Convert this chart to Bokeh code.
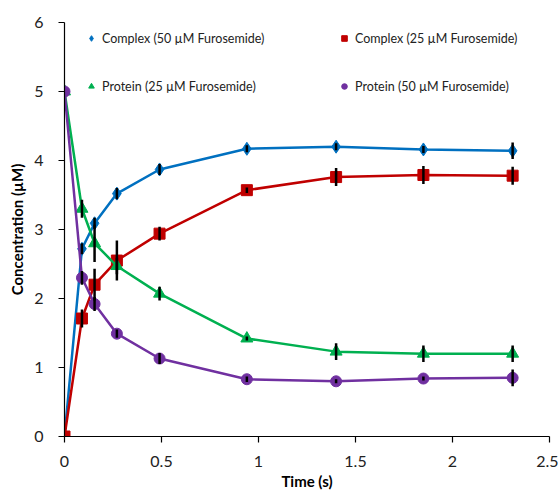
from bokeh.plotting import figure
from bokeh.models import ColumnDataSource, Legend, LegendItem, FixedTicker, Range1d
from bokeh.embed import file_html
from bokeh.resources import INLINE

time_s = [0, 0.09, 0.155, 0.27, 0.49, 0.94, 1.40, 1.85, 2.31]

complex50 = [0, 2.72, 3.09, 3.52, 3.87, 4.17, 4.20, 4.16, 4.14]
complex50_err = [0, 0.08, 0.08, 0.08, 0.08, 0.05, 0.05, 0.05, 0.12]

complex25 = [0, 1.71, 2.20, 2.55, 2.94, 3.57, 3.76, 3.79, 3.78]
complex25_err = [0, 0.13, 0.23, 0.29, 0.10, 0.04, 0.13, 0.13, 0.13]

protein25 = [5, 3.30, 2.80, 2.47, 2.07, 1.42, 1.23, 1.20, 1.20]
protein25_err = [0, 0.13, 0.27, 0.12, 0.10, 0.03, 0.12, 0.12, 0.12]

protein50 = [5, 2.30, 1.92, 1.49, 1.13, 0.83, 0.80, 0.84, 0.85]
protein50_err = [0, 0.10, 0.10, 0.06, 0.08, 0.04, 0.03, 0.03, 0.12]

x_ticks = [0, 0.5, 1, 1.5, 2, 2.5]
x_tick_labels = ["0", "0.5", "1", "1.5", "2", "2.5"]
y_ticks = [0, 1, 2, 3, 4, 5, 6]
y_tick_labels = ["0", "1", "2", "3", "4", "5", "6"]

series = [
    ("Complex (50 µM Furosemide)", complex50, complex50_err, "#0070C0", "diamond", 13),
    ("Complex (25 µM Furosemide)", complex25, complex25_err, "#C00000", "square", 11),
    ("Protein (25 µM Furosemide)", protein25, protein25_err, "#00B050", "triangle", 12),
    ("Protein (50 µM Furosemide)", protein50, protein50_err, "#7030A0", "circle", 11),
]

FONT = "Lato"

p = figure(frame_width=485, frame_height=414, output_backend="svg", toolbar_location=None,
           x_range=Range1d(0, 2.5), y_range=Range1d(0, 6),
           min_border_left=64, min_border_right=9, min_border_top=22, min_border_bottom=20)
p.outline_line_color = None
p.xgrid.visible = False
p.ygrid.visible = False

items = {}
for name, vals, errs, color, marker, size in series:
    src = ColumnDataSource(dict(x=time_s, y=vals))
    p.line("x", "y", source=src, line_color=color, line_width=2.5)
    sc = p.scatter("x", "y", source=src, marker=marker, size=size,
                   fill_color=color, line_color=color)
    items[name] = sc

for name, vals, errs, color, marker, size in series:
    src = ColumnDataSource(dict(
        x=time_s,
        lo=[v - e for v, e in zip(vals, errs)],
        hi=[v + e for v, e in zip(vals, errs)],
    ))
    p.segment(x0="x", y0="lo", x1="x", y1="hi", source=src,
              line_color="black", line_width=2.5)

# legend laid out column-major: column 1 = Complex 50, Protein 25; column 2 = Complex 25, Protein 50
order = [series[0][0], series[2][0], series[1][0], series[3][0]]
legend = Legend(items=[LegendItem(label=n, renderers=[items[n]]) for n in order],
                ncols=2, location=(20, 336), orientation="vertical")
legend.border_line_color = None
legend.background_fill_alpha = 0
legend.padding = 0
legend.margin = 0
legend.spacing = 20
legend.glyph_width = 14
legend.glyph_height = 28
legend.label_height = 28
legend.label_width = 215
legend.label_standoff = 4
legend.label_text_font = FONT
legend.label_text_font_size = "12.5px"
legend.label_text_color = "#222222"
p.add_layout(legend, "center")

for ax in (p.xaxis[0], p.yaxis[0]):
    ax.axis_line_color = "black"
    ax.axis_line_width = 1.2
    ax.major_tick_line_color = "black"
    ax.major_tick_line_width = 1.2
    ax.major_tick_in = 0
    ax.major_tick_out = 6
    ax.minor_tick_line_color = None
    ax.major_label_text_font = FONT
    ax.major_label_text_font_size = "16px"
    ax.major_label_text_color = "#222222"
    ax.axis_label_text_font = FONT
    ax.axis_label_text_font_size = "15px"
    ax.axis_label_text_font_style = "bold"
    ax.axis_label_text_color = "black"

p.xaxis.ticker = FixedTicker(ticks=x_ticks)
p.xaxis.major_label_overrides = dict(zip(x_ticks, x_tick_labels))
p.yaxis.ticker = FixedTicker(ticks=y_ticks)
p.yaxis.major_label_overrides = dict(zip(y_ticks, y_tick_labels))
p.xaxis.axis_label = "Time (s)"
p.yaxis.axis_label = "Concentration (µM)"
p.xaxis.major_label_standoff = 13
p.yaxis.major_label_standoff = 15
p.xaxis.axis_label_standoff = 2
p.yaxis.axis_label_standoff = 5

open("out.html", "w").write(file_html(p, INLINE))
